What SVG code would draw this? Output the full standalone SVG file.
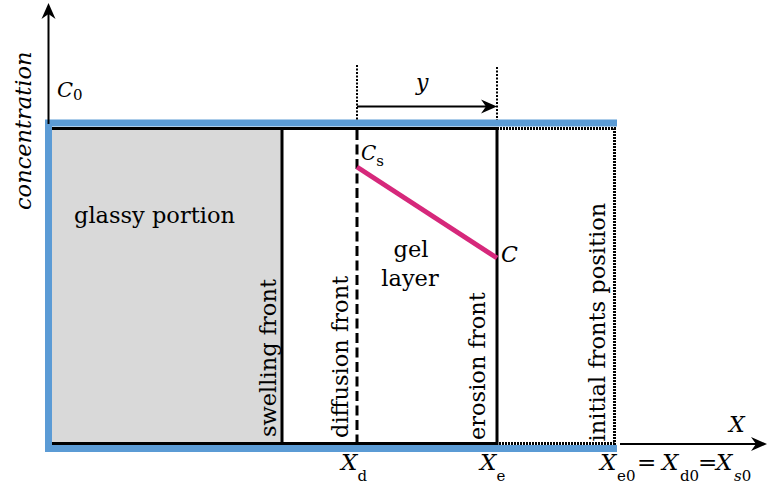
<svg xmlns="http://www.w3.org/2000/svg" width="768" height="485" viewBox="0 0 768 485">
<style>
text{font-family:"DejaVu Serif","Liberation Serif",serif;fill:#000}
.lbl{font-size:22.5px}
.it{font-style:italic}
.sub{font-size:15px;font-style:normal}
.ax{stroke:#000;stroke-width:2;fill:none}
.solid{stroke:#000;stroke-width:3;fill:none}
.dot{stroke:#000;stroke-width:3;stroke-dasharray:2 1;fill:none}
.thindot{stroke:#000;stroke-width:2;stroke-dasharray:2 1.5;fill:none}
</style>
<defs>
<marker id="ah" viewBox="-12 -8 18 16" refX="0" refY="0" markerWidth="18" markerHeight="16" markerUnits="userSpaceOnUse" orient="auto">
<path d="M5,0 L-11,-7 L-6,0 L-11,7 Z" fill="#000"/>
</marker>
</defs>

<g id="glassy">
<rect x="52" y="128.5" width="230" height="315" fill="#d9d9d9"/>
<text class="lbl" x="74" y="223">glassy portion</text>
</g>

<g id="box">
<path class="solid" d="M52,128.5 H497 V443.5 H52"/>
<path class="dot" d="M497,128.5 H614.5 V443.5 H497"/>
</g>

<g id="swelling-front">
<line class="solid" x1="282" y1="128.5" x2="282" y2="443.5"/>
<text class="lbl" transform="translate(276,437) rotate(-90)">swelling front</text>
</g>

<g id="diffusion-front">
<line x1="357" y1="130" x2="357" y2="443" stroke="#000" stroke-width="3" stroke-dasharray="10 4.5"/>
<text class="lbl" transform="translate(348,438) rotate(-90)">diffusion front</text>
</g>

<g id="erosion-front">
<text class="lbl" transform="translate(485,440) rotate(-90)">erosion front</text>
</g>

<g id="initial-fronts">
<text class="lbl" transform="translate(605,441.5) rotate(-90)">initial fronts position</text>
</g>

<g id="gel-layer">
<text class="lbl" x="411" y="256.5" text-anchor="middle">gel</text>
<text class="lbl" x="410" y="286" text-anchor="middle">layer</text>
</g>

<g id="border">
<path d="M617,123 H48.5 V448.5 H617" stroke="#5b9bd5" stroke-width="7" fill="none" stroke-linejoin="miter"/>
</g>

<g id="connectors">
<line class="ax" x1="48.5" y1="124" x2="48.5" y2="8" marker-end="url(#ah)"/>
<line class="ax" x1="620" y1="444" x2="762" y2="444" marker-end="url(#ah)"/>
<line class="thindot" x1="357" y1="65" x2="357" y2="120"/>
<line class="thindot" x1="497" y1="67" x2="497" y2="120"/>
<line class="ax" x1="357" y1="106.5" x2="492" y2="106.5" marker-end="url(#ah)"/>
<line x1="357" y1="167" x2="497" y2="258" stroke="#d6287b" stroke-width="5"/>
</g>

<g id="labels">
<text class="lbl it" transform="translate(30.5,210) rotate(-90)">concentration</text>
<text class="it" x="57" y="97" font-size="21">C<tspan class="sub" font-size="14" dy="3">0</tspan></text>
<text class="it" x="361" y="160" font-size="20">C<tspan class="sub" font-size="14" dy="6">s</tspan></text>
<text class="it" x="501" y="261.5" font-size="22">C</text>
<text class="it" x="416" y="90" font-size="22">y</text>
<text class="it" x="729" y="432" font-size="22">X</text>
<text class="it" x="341" y="470" font-size="23">X<tspan class="sub" dy="11">d</tspan></text>
<text class="it" x="480" y="470" font-size="23">X<tspan class="sub" dy="11">e</tspan></text>
<text class="it" x="600" y="470" font-size="23">X<tspan class="sub" x="617" dy="11">e0</tspan><tspan style="font-style:normal" x="637" dy="-11">=</tspan><tspan x="662">X</tspan><tspan class="sub" x="680" dy="11">d0</tspan><tspan style="font-style:normal" x="698" dy="-11">=</tspan><tspan x="716">X</tspan><tspan class="sub" x="734" dy="11"><tspan style="font-style:italic">s</tspan>0</tspan></text>
</g>
</svg>
